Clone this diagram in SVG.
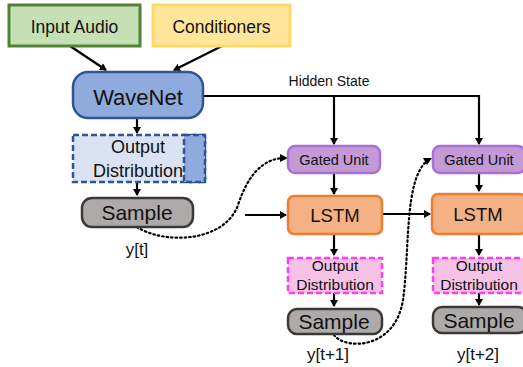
<svg xmlns="http://www.w3.org/2000/svg" width="523" height="367" viewBox="0 0 523 367">
<style>
text{font-family:"Liberation Sans",Arial,sans-serif;fill:#111;text-anchor:middle}
.ln{stroke:#000;stroke-width:2.2;fill:none}
.dot{stroke:#000;stroke-width:2.2;fill:none;stroke-dasharray:1.5 3;stroke-linecap:round}
.gate{fill:#c49ad6;stroke:#a86fd6;stroke-width:2.5}
.lstm{fill:#f4b183;stroke:#ed7d31;stroke-width:2.5}
.pink{fill:#f7c0e5;stroke:#ff3fee;stroke-width:2.5;stroke-dasharray:6 3}
.samp{fill:#aeaaaa;stroke:#3b3838;stroke-width:2.5}
</style>
<defs>
<marker id="ah" markerWidth="8" markerHeight="8" refX="6" refY="4" orient="auto" markerUnits="userSpaceOnUse">
<path d="M0,0 L7,4 L0,8 z" fill="#000"/>
</marker>
</defs>
<g id="connectors">
<line class="ln" x1="70" y1="46" x2="106" y2="70" marker-end="url(#ah)"/>
<line class="ln" x1="222" y1="46" x2="174" y2="70" marker-end="url(#ah)"/>
<polyline class="ln" points="203,96 479,96 479,144" marker-end="url(#ah)"/>
<line class="ln" x1="334" y1="96" x2="334" y2="144" marker-end="url(#ah)"/>
<line class="ln" x1="137" y1="118" x2="137" y2="133" marker-end="url(#ah)"/>
<line class="ln" x1="137" y1="182" x2="137" y2="195" marker-end="url(#ah)"/>
<line class="ln" x1="334" y1="173" x2="334" y2="194" marker-end="url(#ah)"/>
<line class="ln" x1="479" y1="173" x2="479" y2="191" marker-end="url(#ah)"/>
<line class="ln" x1="245" y1="215" x2="286" y2="215" marker-end="url(#ah)"/>
<line class="ln" x1="382" y1="214" x2="430" y2="214" marker-end="url(#ah)"/>
<line class="ln" x1="334" y1="234" x2="334" y2="255" marker-end="url(#ah)"/>
<line class="ln" x1="479" y1="234" x2="479" y2="255" marker-end="url(#ah)"/>
<line class="ln" x1="334" y1="293" x2="334" y2="306" marker-end="url(#ah)"/>
<line class="ln" x1="479" y1="293" x2="479" y2="305" marker-end="url(#ah)"/>
<path class="dot" d="M137,227 C165,245 225,242 238,205 C248,175 262,160 282,158"/>
<path d="M280,154 L288,158 L280,162 z" fill="#000"/>
<path class="dot" d="M334,335 C345,350 395,350 403,300 C410,250 404,180 427,161"/>
<path d="M423,158 L432,158 L427,165 z" fill="#000"/>
</g>
<g id="input-audio">
<rect x="9" y="5" width="131" height="41" fill="#c5e0b4" stroke="#548235" stroke-width="3"/>
<text x="74.5" y="33" font-size="17.5">Input Audio</text>
</g>
<g id="conditioners">
<rect x="153" y="5" width="137" height="41" fill="#ffe699" stroke="#ffd966" stroke-width="3"/>
<text x="221.5" y="33" font-size="17.5">Conditioners</text>
</g>
<g id="wavenet">
<rect x="73" y="72" width="130" height="46" rx="15" fill="#8faadc" stroke="#2f5597" stroke-width="2.5"/>
<text x="138" y="105" font-size="22">WaveNet</text>
</g>
<text x="329" y="86" font-size="14">Hidden State</text>
<g id="output-dist-0">
<rect x="73" y="135" width="132" height="47" fill="#dae3f3" stroke="#2f5597" stroke-width="2.5" stroke-dasharray="6 3"/>
<text x="138" y="153" font-size="18">Output</text>
<text x="138" y="177" font-size="18">Distribution</text>
<rect x="184" y="135" width="21" height="47" fill="#8faadc" stroke="#2f5597" stroke-width="2.5" stroke-dasharray="6 3"/>
</g>
<g id="sample-0">
<rect x="82" y="198" width="111" height="29" rx="10" class="samp"/>
<text x="137" y="220" font-size="21">Sample</text>
</g>
<text x="137" y="255" font-size="17">y[t]</text>
<g id="gated-1">
<rect x="288" y="146" width="92" height="27" rx="7" class="gate"/>
<text x="334" y="165" font-size="14.5">Gated Unit</text>
</g>
<g id="gated-2">
<rect x="433" y="146" width="92" height="27" rx="7" class="gate"/>
<text x="479" y="165" font-size="14.5">Gated Unit</text>
</g>
<g id="lstm-1">
<rect x="288" y="196" width="94" height="38" rx="6" class="lstm"/>
<text x="335" y="222" font-size="18.5">LSTM</text>
</g>
<g id="lstm-2">
<rect x="432" y="194" width="94" height="40" rx="6" class="lstm"/>
<text x="478" y="221" font-size="18.5">LSTM</text>
</g>
<g id="output-dist-1">
<rect x="288" y="258" width="94" height="35" class="pink"/>
<text x="335" y="271" font-size="15.5">Output</text>
<text x="335" y="290" font-size="15.5">Distribution</text>
</g>
<g id="output-dist-2">
<rect x="433" y="258" width="94" height="35" class="pink"/>
<text x="479" y="271" font-size="15.5">Output</text>
<text x="479" y="290" font-size="15.5">Distribution</text>
</g>
<g id="sample-1">
<rect x="288" y="309" width="94" height="25" rx="9" class="samp"/>
<text x="334" y="329" font-size="21">Sample</text>
</g>
<g id="sample-2">
<rect x="433" y="307" width="94" height="26" rx="9" class="samp"/>
<text x="479" y="328" font-size="21">Sample</text>
</g>
<text x="328" y="360" font-size="17">y[t+1]</text>
<text x="478" y="360" font-size="17">y[t+2]</text>
</svg>
